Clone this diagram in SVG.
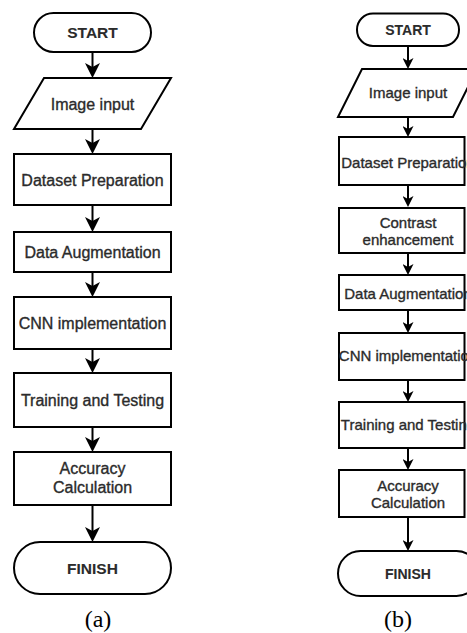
<svg xmlns="http://www.w3.org/2000/svg" width="467" height="633" viewBox="0 0 467 633">
  <defs>
    <style>
      .shape { fill: #ffffff; stroke: #000000; stroke-width: 2; }
      .edge { fill: none; stroke: #000000; stroke-width: 2; }
      .lbl { font-family: "Liberation Sans", Arial, Helvetica, sans-serif; fill: #2b2b2b; stroke: #2b2b2b; stroke-width: 0.35; text-anchor: middle; }
      .la { font-size: 16px; }
      .lb { font-size: 15px; }
      .term-a { font-size: 15.5px; font-weight: bold; stroke-width: 0.1; }
      .term-b { font-size: 14px; font-weight: bold; stroke-width: 0.1; }
      .cap { font-family: "Liberation Serif", "Times New Roman", serif; font-size: 24px; fill: #000000; text-anchor: middle; }
    </style>
    <!-- notched arrowheads, fixed size in user units -->
    <marker id="arrowA" viewBox="0 0 15 15" markerUnits="userSpaceOnUse" markerWidth="15" markerHeight="15" refX="9" refY="7.5" orient="auto">
      <path d="M0,0 L15,7.5 L0,15 L4,7.5 Z" fill="#000000"/>
    </marker>
    <marker id="arrowB" viewBox="0 0 11 11" markerUnits="userSpaceOnUse" markerWidth="11" markerHeight="11" refX="6" refY="5.5" orient="auto">
      <path d="M0,0 L11,5.5 L0,11 L3,5.5 Z" fill="#000000"/>
    </marker>
  </defs>
  <rect width="467" height="633" fill="#ffffff"/>

  <!-- connectors: chart (a), ending 6px before each target, tips land on the target edge -->
  <g id="edges-a" class="edge" marker-end="url(#arrowA)">
    <path d="M92.5,52 V72"/>
    <path d="M92.5,129 V148"/>
    <path d="M92.5,205 V226"/>
    <path d="M92.5,272 V291"/>
    <path d="M92.5,349 V367"/>
    <path d="M92.5,427 V446"/>
    <path d="M92.5,505 V536"/>
  </g>

  <!-- connectors: chart (b) -->
  <g id="edges-b" class="edge" marker-end="url(#arrowB)">
    <path d="M408,46 V64"/>
    <path d="M408,117 V132"/>
    <path d="M408,185 V202"/>
    <path d="M408,253 V270"/>
    <path d="M408,310 V328"/>
    <path d="M408,380 V397"/>
    <path d="M408,448 V465"/>
    <path d="M408,517 V546"/>
  </g>

  <!-- chart (a) -->
  <g id="a-start">
    <rect class="shape" x="34" y="13" width="117" height="39" rx="19.5"/>
    <text class="lbl term-a" x="92.5" y="37.5">START</text>
  </g>
  <g id="a-input">
    <polygon class="shape" points="44,78 171,78 141,129 14,129"/>
    <text class="lbl la" x="92.5" y="109.5">Image input</text>
  </g>
  <g id="a-dataset">
    <rect class="shape" x="14" y="154" width="157" height="51"/>
    <text class="lbl la" x="92.5" y="185.5">Dataset Preparation</text>
  </g>
  <g id="a-augment">
    <rect class="shape" x="14" y="232" width="157" height="40"/>
    <text class="lbl la" x="92.5" y="257.5">Data Augmentation</text>
  </g>
  <g id="a-cnn">
    <rect class="shape" x="14" y="297" width="157" height="52"/>
    <text class="lbl la" x="92.5" y="328.5">CNN implementation</text>
  </g>
  <g id="a-train">
    <rect class="shape" x="14" y="373" width="157" height="54"/>
    <text class="lbl la" x="92.5" y="405.5">Training and Testing</text>
  </g>
  <g id="a-accuracy">
    <rect class="shape" x="14" y="452" width="157" height="53"/>
    <text class="lbl la" x="92.5" y="474">Accuracy</text>
    <text class="lbl la" x="92.5" y="493">Calculation</text>
  </g>
  <g id="a-finish">
    <rect class="shape" x="14" y="542" width="157" height="52" rx="26"/>
    <text class="lbl term-a" x="92.5" y="573.5">FINISH</text>
  </g>
  <text id="cap-a" class="cap" x="98" y="627">(a)</text>

  <!-- chart (b) -->
  <g id="b-start">
    <rect class="shape" x="357" y="13.5" width="102" height="32.5" rx="16"/>
    <text class="lbl term-b" x="408" y="35">START</text>
  </g>
  <g id="b-input">
    <polygon class="shape" points="362,69 477,69 453,117 338,117"/>
    <text class="lbl lb" x="408" y="98">Image input</text>
  </g>
  <g id="b-dataset">
    <rect class="shape" x="339" y="137" width="125.5" height="48"/>
    <text class="lbl lb" x="408" y="167.5">Dataset Preparation</text>
  </g>
  <g id="b-contrast">
    <rect class="shape" x="339" y="208" width="125.5" height="45"/>
    <text class="lbl lb" x="408" y="227.5">Contrast</text>
    <text class="lbl lb" x="408" y="244.5">enhancement</text>
  </g>
  <g id="b-augment">
    <rect class="shape" x="339" y="275" width="125.5" height="35"/>
    <text class="lbl lb" x="408" y="298.5">Data Augmentation</text>
  </g>
  <g id="b-cnn">
    <rect class="shape" x="339" y="333" width="125.5" height="47"/>
    <text class="lbl lb" x="408" y="361">CNN implementation</text>
  </g>
  <g id="b-train">
    <rect class="shape" x="339" y="402" width="125.5" height="46"/>
    <text class="lbl lb" x="408" y="430">Training and Testing</text>
  </g>
  <g id="b-accuracy">
    <rect class="shape" x="339" y="470" width="125.5" height="47"/>
    <text class="lbl lb" x="408" y="490.5">Accuracy</text>
    <text class="lbl lb" x="408" y="507.5">Calculation</text>
  </g>
  <g id="b-finish">
    <rect class="shape" x="338" y="551" width="141" height="45" rx="22.5"/>
    <text class="lbl term-b" x="408" y="579">FINISH</text>
  </g>
  <text id="cap-b" class="cap" x="398" y="627">(b)</text>
</svg>
